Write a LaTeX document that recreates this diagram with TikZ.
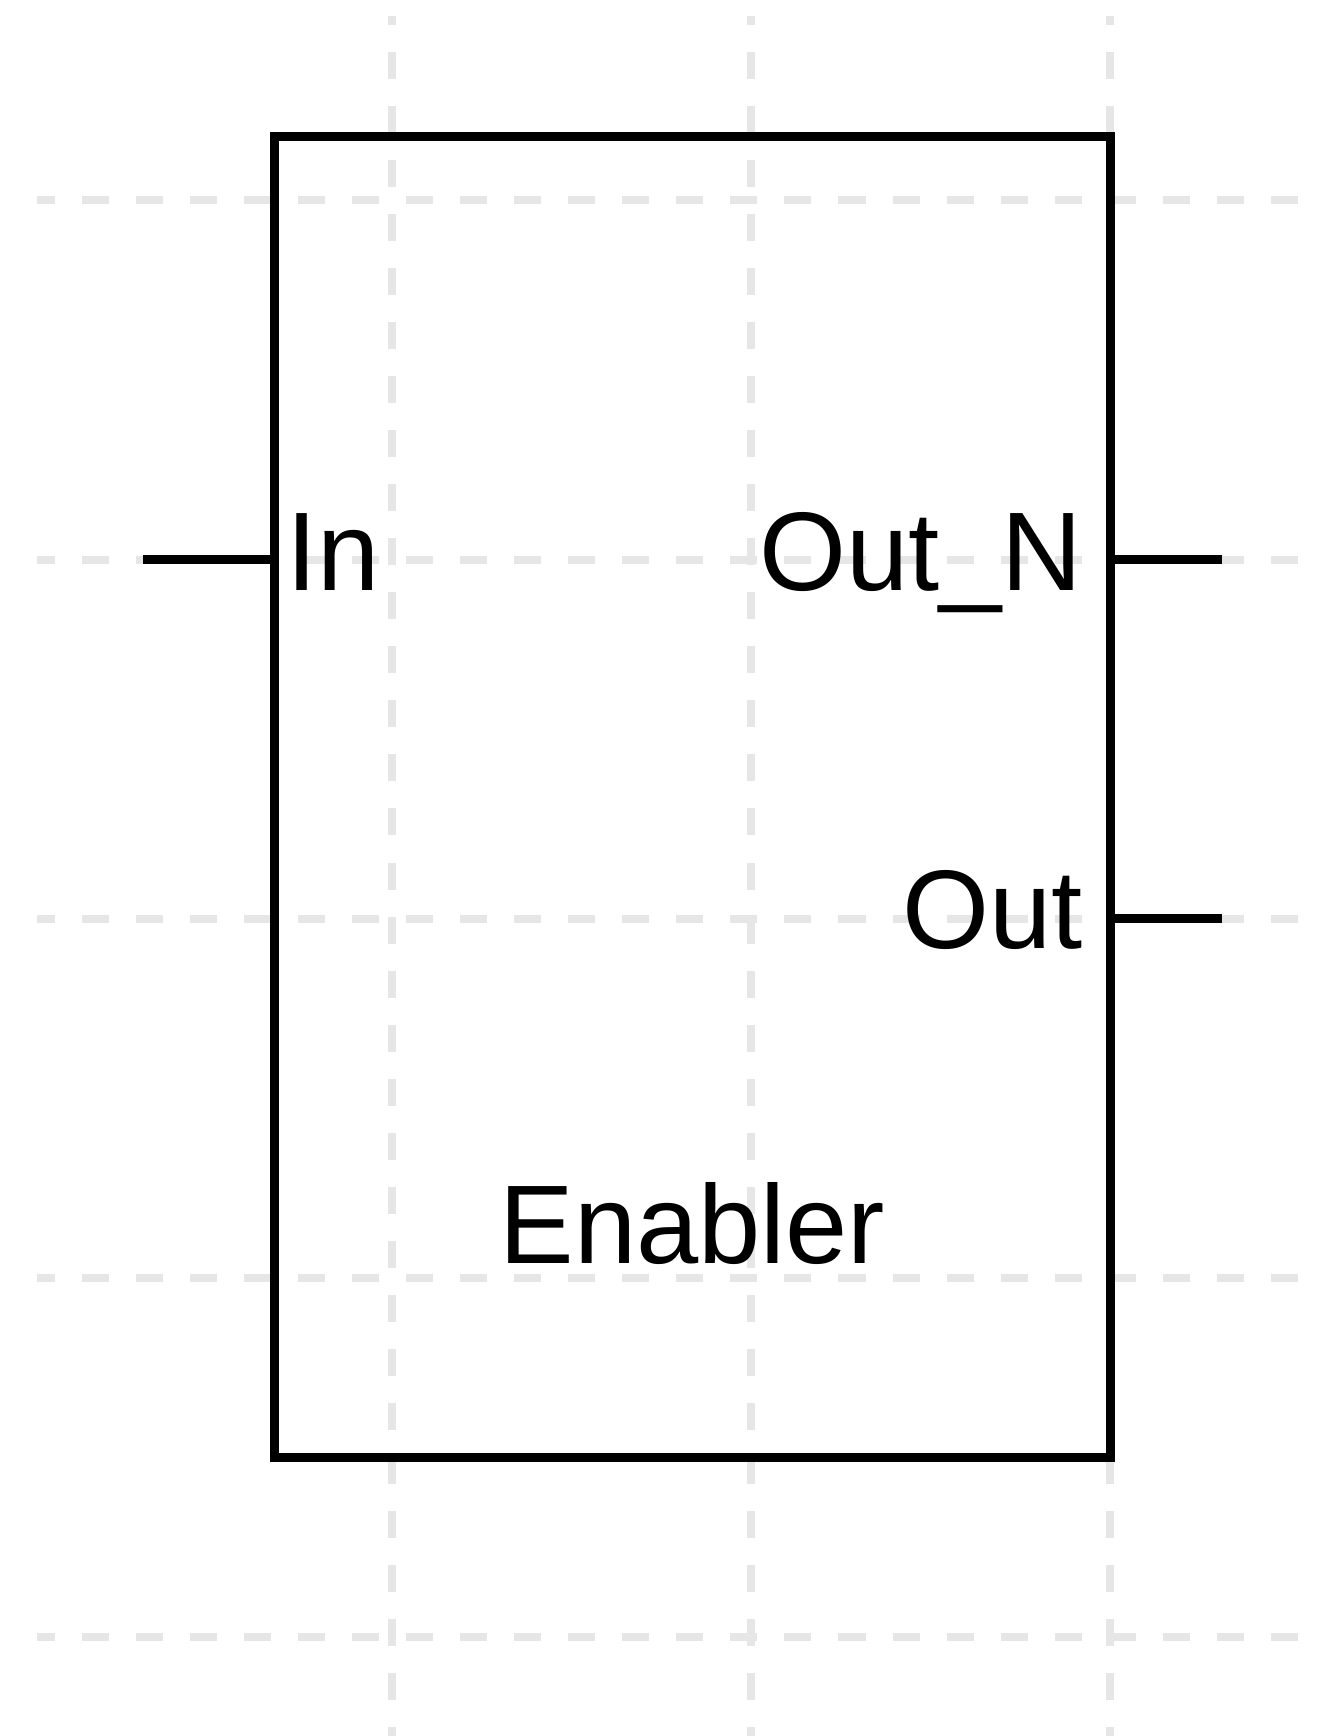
\documentclass[tikz,border=0pt]{standalone}
\usepackage{fontspec}
\setmainfont{Liberation Sans}
\usetikzlibrary{positioning, calc}
\definecolor{gridgray}{HTML}{E6E6E6}
\definecolor{blockblack}{HTML}{000000}

\tikzset{
  gridline/.style={draw=gridgray, line width=0.08cm, dash pattern=on 0.27cm off 0.27cm},
  hgrid/.style={gridline, dash phase=0.09cm},
  vgrid/.style={gridline, dash phase=0.18cm},
  blockbox/.style={draw=blockblack, line width=0.09cm, minimum width=8.355cm, minimum height=13.205cm, inner sep=0pt},
  pinwire/.style={draw=blockblack, line width=0.085cm},
  pinlabel/.style={font=\fontsize{31.8}{36}\selectfont, text=blockblack, inner sep=0pt}
}

\begin{document}
\begin{tikzpicture}[x=0.01cm, y=-0.01cm]
  \useasboundingbox (0,0) rectangle (1322,1736);
  \fill[white] (0,0) rectangle (1322,1736);

  % Background grid
  \draw[hgrid] (37,200) -- (1322,200);
  \draw[hgrid] (37,559.5) -- (1322,559.5);
  \draw[hgrid] (37,918.5) -- (1322,918.5);
  \draw[hgrid] (37,1278) -- (1322,1278);
  \draw[hgrid] (37,1637) -- (1322,1637);
  \draw[vgrid] (391.5,16) -- (391.5,1736);
  \draw[vgrid] (751,16) -- (751,1736);
  \draw[vgrid] (1110,16) -- (1110,1736);

  % Function block
  \node[blockbox] (enabler) at (692.25,797.25) {};
  \node[pinlabel, anchor=base] (blockname) at (692.25,1263) {Enabler};

  % Pins
  \coordinate (inEnd) at (143,559.5);
  \coordinate (outNEnd) at (1222,559.5);
  \coordinate (outEnd) at (1222,918.5);
  \draw[pinwire] (inEnd) -- (inEnd -| enabler.west);
  \draw[pinwire] (enabler.east |- outNEnd) -- (outNEnd);
  \draw[pinwire] (enabler.east |- outEnd) -- (outEnd);

  \node[pinlabel, anchor=base west] (lblIn) at (286,590) {In};
  \node[pinlabel, anchor=base east] (lblOutN) at (1083,590) {Out\_N};
  \node[pinlabel, anchor=base east] (lblOut) at (1083,948) {Out};
\end{tikzpicture}
\end{document}
